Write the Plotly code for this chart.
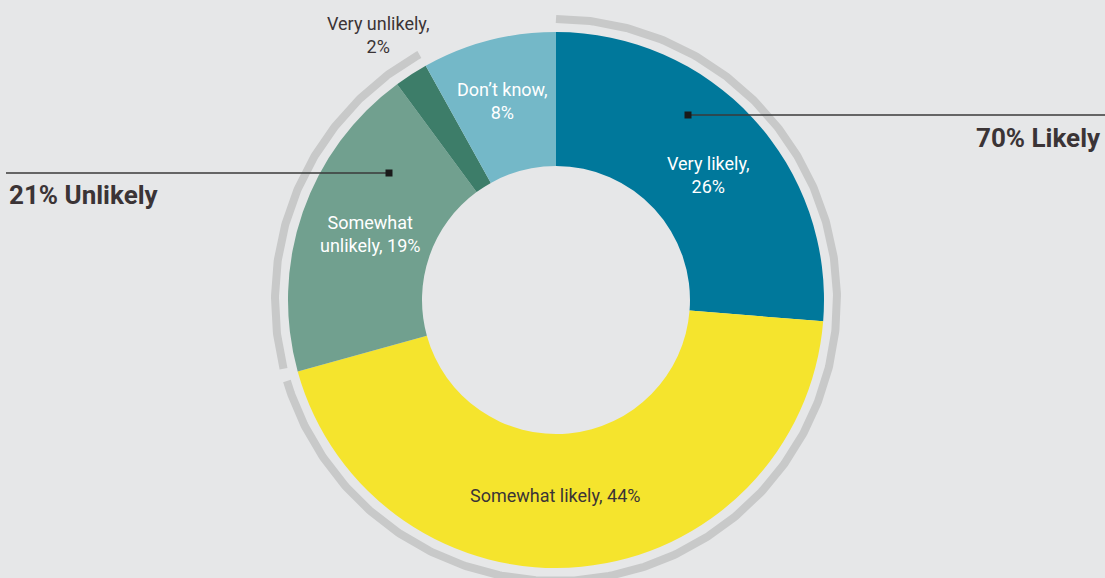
import math
import plotly.graph_objects as go

# Survey answers, clockwise from 12 o'clock
categories = ["Very likely", "Somewhat likely", "Somewhat unlikely", "Very unlikely", "Don't know"]
values = [26, 44, 19, 2, 8]
colors = ["#00789B", "#F5E42D", "#71A08F", "#3D7D69", "#74B8C8"]
text_colors = ["#FFFFFF", "#3B3436", "#FFFFFF", "#3B3436", "#FFFFFF"]
label_text = ["Very likely,<br>26%", "Somewhat likely, 44%", "Somewhat<br>unlikely, 19%",
              "Very unlikely,<br>2%", "Don\u2019t know,<br>8%"]

# Grouped totals shown on the outer ring
groups = ["Likely", "Unlikely"]
group_members = [[0, 1], [2, 3]]

W, H = 1105, 578
CX, CY = 556, 300          # donut centre in pixels
R_OUT, HOLE = 268, 0.5
RING_R, RING_W = 281, 8
RING_GAP_DEG = 2.6
BG = "#E6E7E8"
INK = "#3B3436"
FONT = "Roboto, sans-serif"

# label anchors (pixels)
label_pos = [(708, 175), (555, 495), (370, 234), (378, 35), (502, 101)]
# leader line anchors: (marker x, marker y, line end x)
leader = [(688, 115, W), (389, 173, 6)]

total = sum(values)

fig = go.Figure()

fig.add_trace(go.Pie(
    labels=categories, values=values, sort=False, direction="clockwise", rotation=0,
    hole=HOLE, marker=dict(colors=colors, line=dict(width=0)),
    textinfo="none", hoverinfo="label+percent", showlegend=False,
    domain=dict(x=[(CX - R_OUT) / W, (CX + R_OUT) / W],
                y=[(H - CY - R_OUT) / H, (H - CY + R_OUT) / H]),
))


def ring_xy(a0, a1, r):
    n = max(int(abs(a1 - a0) * 2), 2)
    xs, ys = [], []
    for i in range(n + 1):
        a = math.radians(a0 + (a1 - a0) * i / n)
        xs.append(CX + r * math.sin(a))
        ys.append(CY - r * math.cos(a))
    return xs, ys


# outer grey arcs spanning each group's share
start = 0.0
for gi, members in enumerate(group_members):
    share = sum(values[m] for m in members)
    a0 = start / total * 360
    a1 = (start + share) / total * 360
    if gi > 0:
        a0 += RING_GAP_DEG / 2
    if gi < len(group_members) - 1:
        a1 -= RING_GAP_DEG / 2
    xs, ys = ring_xy(a0, a1, RING_R)
    fig.add_trace(go.Scatter(x=xs, y=ys, mode="lines", line=dict(color="#C8C9C9", width=RING_W),
                             hoverinfo="skip", showlegend=False))
    start += share

# leader lines with square markers, drawn above the donut
shapes = []
for (mx, my, ex) in leader:
    shapes.append(dict(type="line", xref="x", yref="y", x0=mx, x1=ex, y0=my, y1=my,
                       line=dict(color="#3A3A3A", width=1.3), layer="above"))
    shapes.append(dict(type="rect", xref="x", yref="y", x0=mx - 3.5, x1=mx + 3.5,
                       y0=my - 3.5, y1=my + 3.5, fillcolor="#1A1A1A",
                       line=dict(width=0), layer="above"))

annotations = []
for txt, (x, y), c in zip(label_text, label_pos, text_colors):
    annotations.append(dict(x=x, y=y, xref="x", yref="y", text=txt, showarrow=False,
                            font=dict(family=FONT, size=18, color=c), align="center"))

likely = sum(values[m] for m in group_members[0])
unlikely = sum(values[m] for m in group_members[1])
annotations.append(dict(x=1103, y=138, xref="x", yref="y", xanchor="right",
                        text=f"<b>{likely}% {groups[0]}</b>", showarrow=False,
                        font=dict(family=FONT, size=26, color=INK)))
annotations.append(dict(x=7, y=195, xref="x", yref="y", xanchor="left",
                        text=f"<b>{unlikely}% {groups[1]}</b>", showarrow=False,
                        font=dict(family=FONT, size=26, color=INK)))

fig.update_layout(
    width=W, height=H, margin=dict(l=0, r=0, t=0, b=0),
    paper_bgcolor=BG, plot_bgcolor="rgba(0,0,0,0)",
    xaxis=dict(range=[0, W], visible=False, domain=[0, 1], fixedrange=True),
    yaxis=dict(range=[H, 0], visible=False, domain=[0, 1], fixedrange=True),
    shapes=shapes,
    annotations=annotations,
)

fig.write_html("out.html")
